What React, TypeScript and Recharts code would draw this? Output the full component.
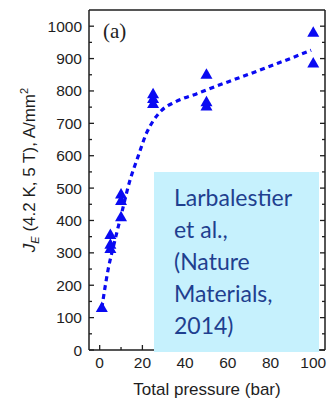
import { ComposedChart, Line, Scatter, XAxis, YAxis, Label } from 'recharts';

// measured J_E points (bar, A/mm²)
const pressureBar = [1, 5, 5, 5, 10, 10, 10, 25, 25, 25, 50, 50, 50, 100, 100];
const jeMeasured = [130, 355, 325, 312, 480, 460, 410, 790, 775, 760, 850, 765, 752, 980, 885];

// dashed guide curve through the data
const fitPressure = [1, 4, 7, 10, 14, 18, 22, 25, 29, 35, 40, 45, 50, 60, 70, 80, 90, 99];
const fitJe = [130, 250, 335, 415, 520, 598, 671, 707, 740, 765, 779, 790, 803, 828, 852, 877, 902, 926];

const xTicks = [0, 10, 20, 30, 40, 50, 60, 70, 80, 90, 100];
const yTicks = [0, 50, 100, 150, 200, 250, 300, 350, 400, 450, 500, 550, 600, 650, 700, 750, 800, 850, 900, 950, 1000];

const noteLines = ['Larbalestier', 'et al.,', '(Nature', 'Materials,', '2014)'];

const points = pressureBar.map((p, i) => ({ pressure: p, je: jeMeasured[i] }));
const fit = fitPressure.map((p, i) => ({ pressure: p, je: fitJe[i] }));

const AXIS = '#1e1e1e';
const BLUE = '#0a0af2';
const tickFont = { fontFamily: '"Liberation Sans", Arial, sans-serif', fontSize: 15.5, fill: '#1e1e1e' };

const BottomTick = ({ x, y, payload }: any) => {
    const major = payload.value % 20 === 0;
    return (
        <g>
            <line x1={x} x2={x} y1={y} y2={y - (major ? 5 : 3)} stroke={AXIS} strokeWidth={1.3} />
            {major && (
                <text x={x} y={y + 18} textAnchor="middle" {...tickFont}>
                    {payload.value}
                </text>
            )}
        </g>
    );
};

const TopTick = ({ x, y, payload }: any) => {
    const major = payload.value % 20 === 0;
    return <line x1={x} x2={x} y1={y} y2={y + (major ? 5 : 3)} stroke={AXIS} strokeWidth={1.3} />;
};

const LeftTick = ({ x, y, payload }: any) => {
    const major = payload.value % 100 === 0;
    return (
        <g>
            <line x1={x} x2={x + (major ? 5 : 3)} y1={y} y2={y} stroke={AXIS} strokeWidth={1.3} />
            {major && (
                <text x={x - 7} y={y + 5.5} textAnchor="end" {...tickFont}>
                    {payload.value}
                </text>
            )}
        </g>
    );
};

const RightTick = ({ x, y, payload }: any) => {
    const major = payload.value % 100 === 0;
    return <line x1={x} x2={x - (major ? 5 : 3)} y1={y} y2={y} stroke={AXIS} strokeWidth={1.3} />;
};

const Triangle = ({ cx, cy }: any) => (
    <path d={`M${cx},${cy - 6.5} L${cx + 6},${cy + 4} L${cx - 6},${cy + 4} Z`} fill={BLUE} />
);

const YTitle = ({ viewBox }: any) => {
    const x = viewBox.x + 35;
    const y = viewBox.y + viewBox.height / 2 - 10;
    return (
        <text
            x={x}
            y={y}
            transform={`rotate(-90, ${x}, ${y})`}
            textAnchor="middle"
            fontFamily='"Liberation Sans", Arial, sans-serif'
            fontSize={17}
            fill="#1e1e1e"
        >
            <tspan fontStyle="italic">J</tspan>
            <tspan fontStyle="italic" fontSize={11} dy={4}>E</tspan>
            <tspan dy={-4}> (4.2 K, 5 T), A/mm</tspan>
            <tspan fontSize={11} dy={-7}>2</tspan>
        </text>
    );
};

const XTitle = ({ viewBox }: any) => (
    <text
        x={viewBox.x + viewBox.width / 2}
        y={395}
        textAnchor="middle"
        fontFamily='"Liberation Sans", Arial, sans-serif'
        fontSize={17}
        fill="#1e1e1e"
    >
        Total pressure (bar)
    </text>
);

const PanelTag = ({ viewBox }: any) => (
    <text x={viewBox.x + 14} y={38} fontFamily='"Liberation Serif", "Times New Roman", serif' fontSize={21} fill="#222">
        (a)
    </text>
);

export default function App() {
    return (
        <div style={{ position: 'absolute', left: 0, top: 0, width: 332, height: 400, background: '#fff' }}>
            <ComposedChart width={332} height={400} margin={{ top: 0, right: 0, bottom: 0, left: 0 }}>
                <XAxis
                    xAxisId="bottom"
                    dataKey="pressure"
                    type="number"
                    domain={[-5, 105.5]}
                    allowDataOverflow
                    ticks={xTicks}
                    interval={0}
                    height={50}
                    tickSize={0}
                    tickMargin={0}
                    tickLine={false}
                    tick={<BottomTick />}
                    axisLine={{ stroke: AXIS, strokeWidth: 1.5 }}
                >
                    <Label content={<XTitle />} />
                </XAxis>
                <XAxis
                    xAxisId="top"
                    orientation="top"
                    type="number"
                    domain={[-5, 105.5]}
                    allowDataOverflow
                    ticks={xTicks}
                    interval={0}
                    height={10}
                    tickSize={0}
                    tickMargin={0}
                    tickLine={false}
                    tick={<TopTick />}
                    axisLine={{ stroke: AXIS, strokeWidth: 1.5 }}
                >
                    <Label content={<PanelTag />} />
                </XAxis>
                <YAxis
                    yAxisId="left"
                    dataKey="je"
                    type="number"
                    domain={[0, 1050]}
                    allowDataOverflow
                    ticks={yTicks}
                    interval={0}
                    width={89}
                    tickSize={0}
                    tickMargin={0}
                    tickLine={false}
                    tick={<LeftTick />}
                    axisLine={{ stroke: AXIS, strokeWidth: 1.5 }}
                >
                    <Label content={<YTitle />} />
                </YAxis>
                <YAxis
                    yAxisId="right"
                    orientation="right"
                    type="number"
                    domain={[0, 1050]}
                    allowDataOverflow
                    ticks={yTicks}
                    interval={0}
                    width={7}
                    tickSize={0}
                    tickMargin={0}
                    tickLine={false}
                    tick={<RightTick />}
                    axisLine={{ stroke: AXIS, strokeWidth: 1.5 }}
                />
                <Line
                    xAxisId="bottom"
                    yAxisId="left"
                    data={fit}
                    dataKey="je"
                    type="monotone"
                    stroke={BLUE}
                    strokeWidth={3.2}
                    strokeDasharray="5 4"
                    dot={false}
                    activeDot={false}
                    isAnimationActive={false}
                />
                <Scatter
                    xAxisId="bottom"
                    yAxisId="left"
                    data={points}
                    dataKey="je"
                    shape={<Triangle />}
                    isAnimationActive={false}
                />
            </ComposedChart>
            <div
                style={{
                    position: 'absolute',
                    left: 154,
                    top: 172,
                    width: 165,
                    height: 180,
                    background: '#c6f1fd',
                    boxSizing: 'border-box',
                    paddingLeft: 20,
                    paddingTop: 9,
                    fontFamily: 'Lato, "Noto Sans", sans-serif',
                    fontSize: 23,
                    lineHeight: '32px',
                    color: '#1f3f8f',
                }}
            >
                {noteLines.map((line) => (
                    <div key={line}>{line}</div>
                ))}
            </div>
        </div>
    );
}
